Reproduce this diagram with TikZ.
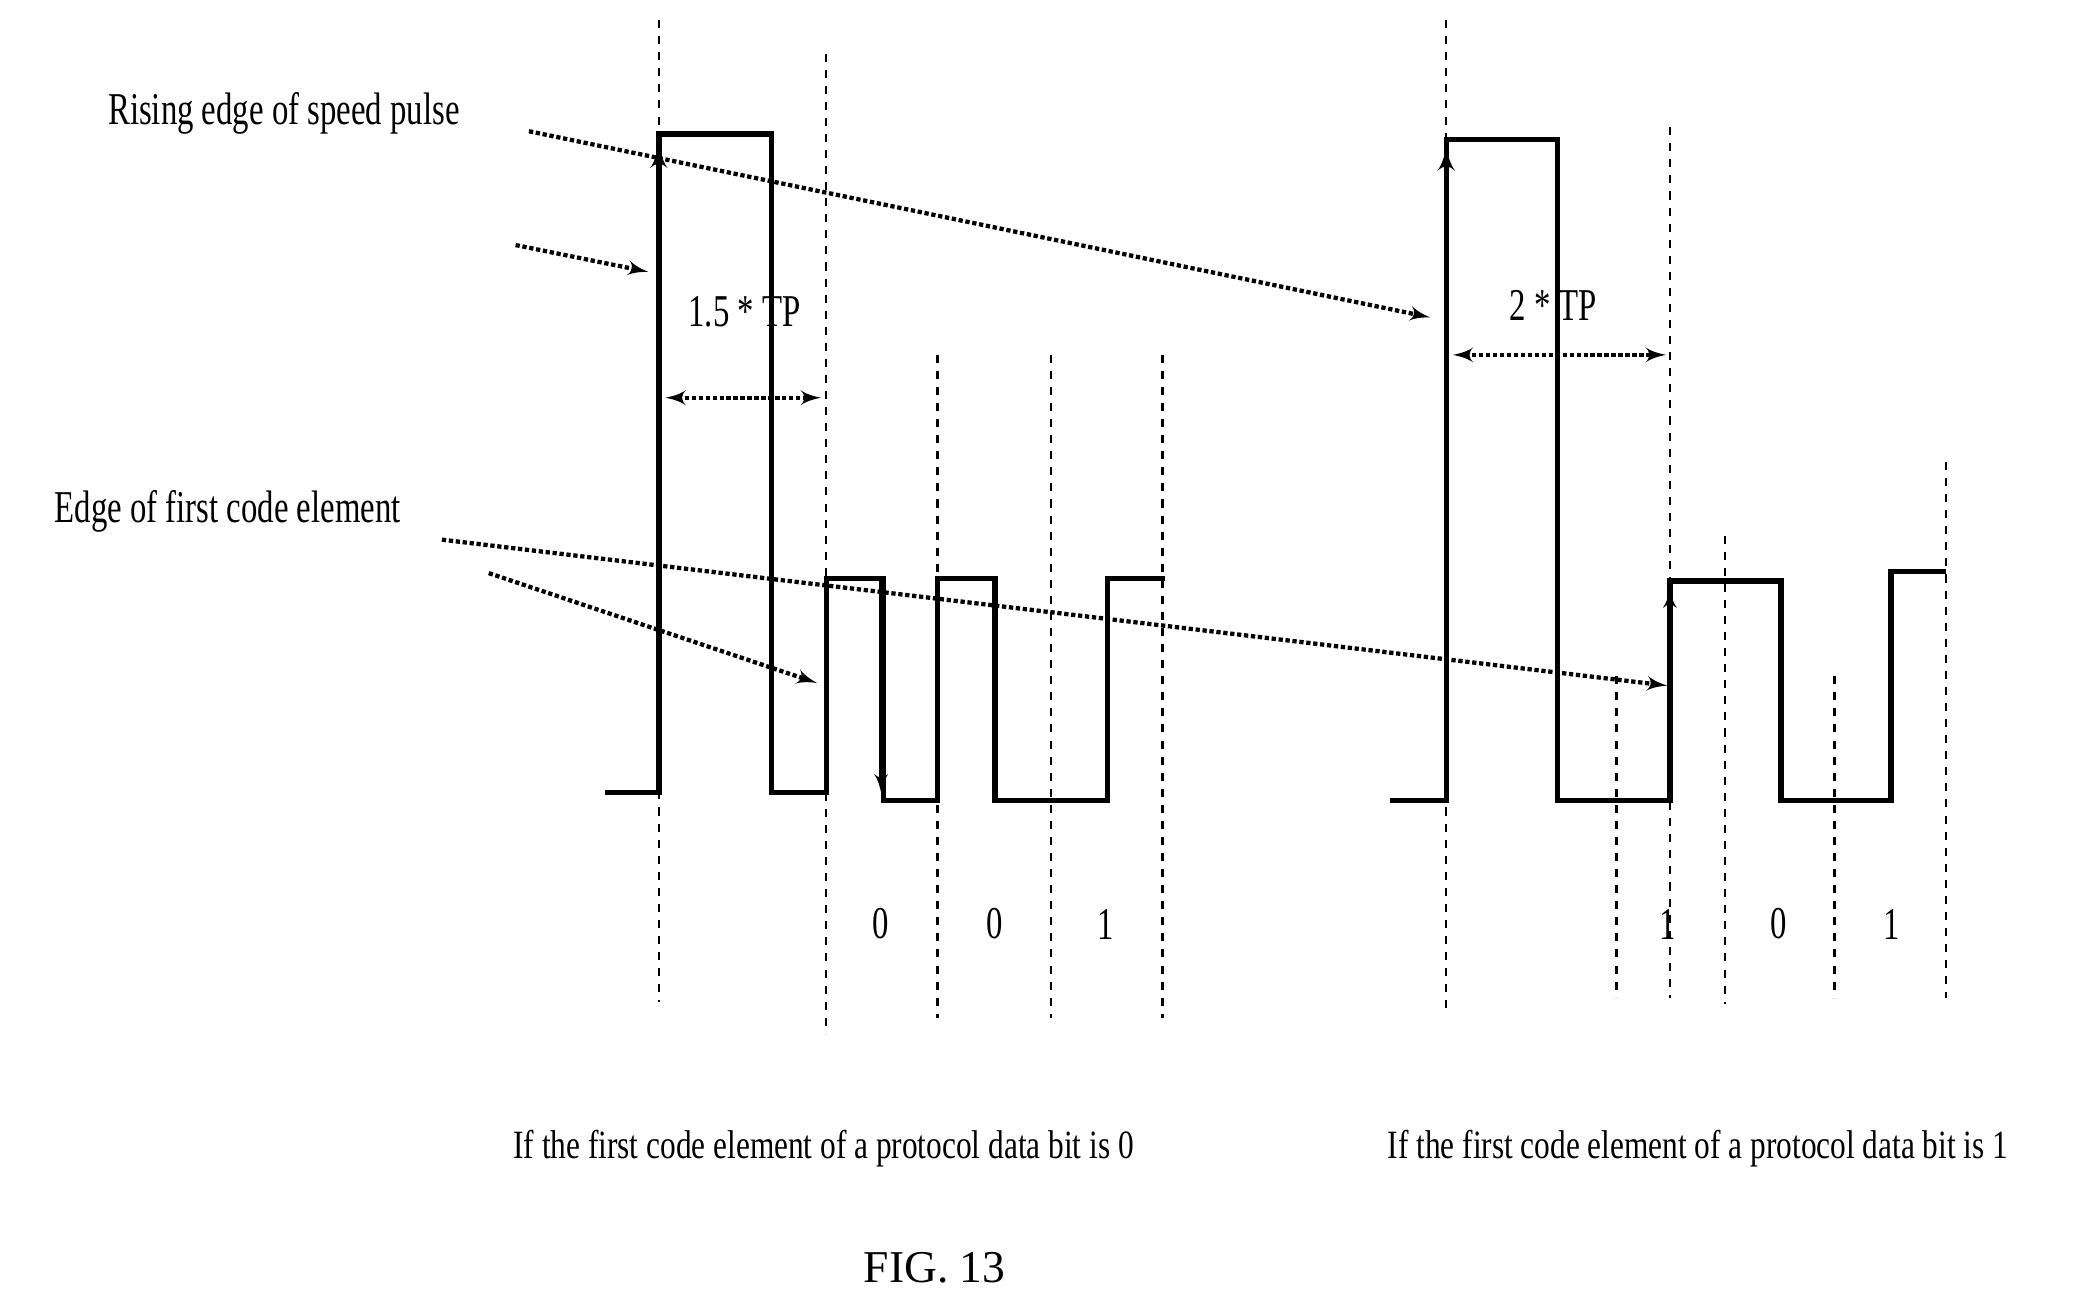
\documentclass[tikz,border=0pt]{standalone}
\usepackage{fontspec}
\setmainfont{Liberation Serif}
\usetikzlibrary{arrows,positioning}
\begin{document}
\begin{tikzpicture}[x=0.5pt,y=-0.5pt,>=latex',
  sig/.style={line width=2pt},
  grid/.style={dashed,line width=0.9pt},
  ptr/.style={->,densely dotted,line width=1.6pt},
  dptr/.style={<->,densely dotted,line width=1.6pt},
  lbl/.style={font=\fontsize{17}{17}\selectfont,xscale=0.72,inner sep=0pt},
  txt/.style={font=\fontsize{15}{15}\selectfont,xscale=0.78,inner sep=0pt}]
\useasboundingbox (0,0) rectangle (1560,975);
% dashed grid lines
\foreach \x/\a/\b in {492/15/748,617/40/772,700/265/760,785/265/760,868/265/760,
  1080/15/755,1247/95/745,1207/505/745,1288/400/750,1370/505/745,1453/345/745}
  \draw[grid] (\x,\a) -- (\x,\b);
% left waveform
\draw[sig] (452,592) -- (492,592) -- (492,100) -- (576,100) -- (576,592) -- (617,592)
  -- (617,432) -- (660,432) -- (660,598) -- (700,598) -- (700,432) -- (743,432)
  -- (743,598) -- (827,598) -- (827,432) -- (870,432);
\draw[->,line width=2pt] (492,592) -- (492,108);
\draw[->,line width=1.4pt] (658,432) -- (658,592);
% right waveform
\draw[sig] (1038,598) -- (1080,598) -- (1080,104) -- (1163,104) -- (1163,598) -- (1247,598)
  -- (1247,434) -- (1330,434) -- (1330,598) -- (1412,598) -- (1412,427) -- (1453,427);
\draw[->,line width=2pt] (1080,598) -- (1080,110);
\draw[->,line width=1.4pt] (1247,520) -- (1247,440);
% labels
\node[lbl] (rise) at (212,85) {Rising edge of speed pulse};
\node[lbl] (edge) at (170,382) {Edge of first code element};
\node[lbl] (tpa) at (556,233) {1.5 * TP};
\node[lbl] (tpb) at (1160,228) {2 * TP};
\foreach \x/\d in {658/0,743/0,826/1,1245/1,1328/0,1413/1}
  \node[lbl] at (\x,690) {\d};
\node[txt] (capa) at (615,858) {If the first code element of a protocol data bit is 0};
\node[txt] (capb) at (1268,858) {If the first code element of a protocol data bit is 1};
\node[font=\fontsize{17}{17}\selectfont] (fig) at (698,947) {FIG. 13};
% pointers
\coordinate (r1) at (395,98);  \coordinate (r2) at (1068,237);
\coordinate (s1) at (385,183); \coordinate (s2) at (484,203);
\coordinate (e1) at (330,403); \coordinate (e2) at (1245,512);
\coordinate (f1) at (365,428); \coordinate (f2) at (610,510);
\draw[ptr] (r1) -- (r2);
\draw[ptr] (s1) -- (s2);
\draw[ptr] (e1) -- (e2);
\draw[ptr] (f1) -- (f2);
\coordinate (da1) at (497,297); \coordinate (da2) at (613,297);
\coordinate (db1) at (1085,265); \coordinate (db2) at (1244,265);
\draw[dptr] (da1) -- (da2);
\draw[dptr] (db1) -- (db2);
\end{tikzpicture}
\end{document}
